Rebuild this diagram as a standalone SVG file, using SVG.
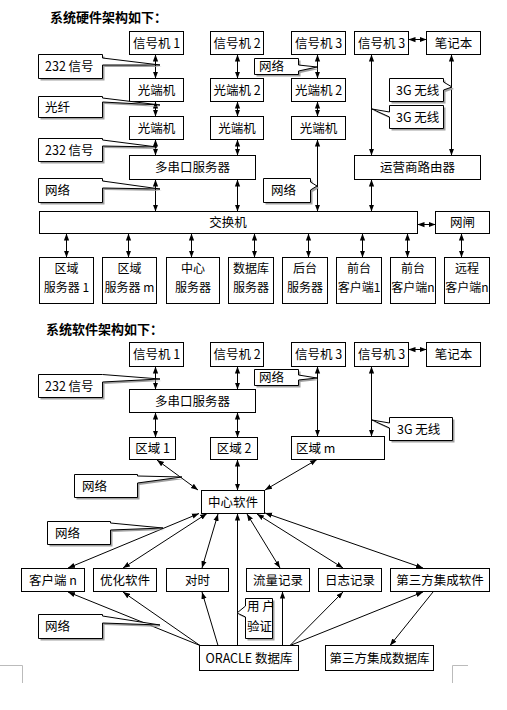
<svg xmlns="http://www.w3.org/2000/svg" width="507" height="710" viewBox="0 0 507 710">
<style>
.b{fill:#fff;stroke:#000;stroke-width:1}
.c{fill:#fff;stroke:#000;stroke-width:1}
.sh{fill:#a0a0a0;stroke:none}
.t{font-family:"Noto Sans CJK SC","Noto Sans",sans-serif;font-size:12.5px;fill:#000;text-anchor:middle}
.t2{font-family:"Noto Sans CJK SC","Noto Sans",sans-serif;font-size:12px;fill:#000;text-anchor:middle}
.l{font-family:"Noto Sans CJK SC","Noto Sans",sans-serif;font-size:12.5px;fill:#000;text-anchor:start}
.h{font-family:"Noto Sans CJK SC",sans-serif;font-size:13px;font-weight:bold;fill:#000}
.s{stroke:#000;stroke-width:1;fill:none;marker-end:url(#ah)}
.d{stroke:#000;stroke-width:1;fill:none;marker-start:url(#ah);marker-end:url(#ah)}
.cm{stroke:#bbb;stroke-width:1;fill:none}
</style>
<defs>
<marker id="ah" viewBox="0 0 8 8" refX="8" refY="4" markerWidth="7" markerHeight="7" markerUnits="userSpaceOnUse" orient="auto-start-reverse"><path d="M0,1 L8,4 L0,7 z" fill="#000"/></marker>
</defs>
<rect width="507" height="710" fill="#fff"/>

<text class="h" x="50" y="22">系统硬件架构如下：</text>
<text class="h" x="46" y="334">系统软件架构如下：</text>

<!-- hardware connectors -->
<g id="hw-connectors">
<path class="d" d="M155.5,54.5 V78.5"/>
<path class="d" d="M155.5,101.5 V116.5"/>
<path class="d" d="M155.5,139.5 V155.5"/>
<path class="d" d="M155.5,179.5 V211.5"/>
<path class="d" d="M237.5,54.5 V78.5"/>
<path class="d" d="M237.5,101.5 V116.5"/>
<path class="d" d="M237.5,139.5 V155.5"/>
<path class="d" d="M237.5,179.5 V211.5"/>
<path class="d" d="M317.5,54.5 V78.5"/>
<path class="d" d="M317.5,101.5 V116.5"/>
<path class="d" d="M317.5,139.5 V211.5"/>
<path class="d" d="M371.5,54.5 V155.5"/>
<path class="d" d="M371.5,179.5 V211.5"/>
<path class="d" d="M451.5,54.5 V155.5"/>
<path class="d" d="M408.5,39.5 H426.5"/>
<path class="d" d="M417.5,224.5 H435.5"/>
<path class="d" d="M66.5,233.5 V257.5"/>
<path class="d" d="M128.5,233.5 V257.5"/>
<path class="d" d="M191.5,233.5 V257.5"/>
<path class="d" d="M254.5,233.5 V257.5"/>
<path class="d" d="M308.5,233.5 V257.5"/>
<path class="d" d="M362.5,233.5 V257.5"/>
<path class="d" d="M407.5,233.5 V257.5"/>
<path class="d" d="M461.5,233.5 V257.5"/>
</g>

<!-- hardware nodes -->
<g id="h-sig1"><rect class="b" x="129.5" y="31.5" width="54" height="23"/><text class="t" x="156.5" y="47.5">信号机 1</text></g>
<g id="h-sig2"><rect class="b" x="210.5" y="31.5" width="53" height="23"/><text class="t" x="237" y="47.5">信号机 2</text></g>
<g id="h-sig3a"><rect class="b" x="291.5" y="31.5" width="54" height="23"/><text class="t" x="318.5" y="47.5">信号机 3</text></g>
<g id="h-sig3b"><rect class="b" x="354.5" y="31.5" width="54" height="23"/><text class="t" x="381.5" y="47.5">信号机 3</text></g>
<g id="h-laptop"><rect class="b" x="426.5" y="31.5" width="54" height="23"/><text class="t" x="453.5" y="47.5">笔记本</text></g>
<g id="h-oe1a"><rect class="b" x="129.5" y="78.5" width="54" height="23"/><text class="t" x="156.5" y="94.5">光端机</text></g>
<g id="h-oe2a"><rect class="b" x="210.5" y="78.5" width="53" height="23"/><text class="t" x="237" y="94.5">光端机 2</text></g>
<g id="h-oe3a"><rect class="b" x="291.5" y="78.5" width="54" height="23"/><text class="t" x="318.5" y="94.5">光端机 2</text></g>
<g id="h-oe1b"><rect class="b" x="129.5" y="116.5" width="54" height="23"/><text class="t" x="156.5" y="132.5">光端机</text></g>
<g id="h-oe2b"><rect class="b" x="210.5" y="116.5" width="53" height="23"/><text class="t" x="237" y="132.5">光端机</text></g>
<g id="h-oe3b"><rect class="b" x="291.5" y="116.5" width="54" height="23"/><text class="t" x="318.5" y="132.5">光端机</text></g>
<g id="h-serial"><rect class="b" x="129.5" y="155.5" width="126" height="24"/><text class="t" x="192.5" y="172">多串口服务器</text></g>
<g id="h-router"><rect class="b" x="354.5" y="155.5" width="126" height="24"/><text class="t" x="417.5" y="172">运营商路由器</text></g>
<g id="h-switch"><rect class="b" x="39.5" y="211.5" width="378" height="22"/><text class="t" x="228" y="227">交换机</text></g>
<g id="h-gate"><rect class="b" x="435.5" y="211.5" width="54" height="22"/><text class="t" x="462.5" y="227">网闸</text></g>
<g id="h-reg1"><rect class="b" x="39.5" y="257.5" width="54" height="46"/><text class="t2" x="66.5" y="272.5">区域</text><text class="t2" x="66.5" y="291.5">服务器 1</text></g>
<g id="h-regm"><rect class="b" x="102.5" y="257.5" width="54" height="46"/><text class="t2" x="129.5" y="272.5">区域</text><text class="t2" x="129.5" y="291.5">服务器 m</text></g>
<g id="h-center"><rect class="b" x="166.5" y="257.5" width="53" height="46"/><text class="t2" x="193" y="272.5">中心</text><text class="t2" x="193" y="291.5">服务器</text></g>
<g id="h-db"><rect class="b" x="228.5" y="257.5" width="45" height="46"/><text class="t2" x="251" y="272.5">数据库</text><text class="t2" x="251" y="291.5">服务器</text></g>
<g id="h-back"><rect class="b" x="282.5" y="257.5" width="45" height="46"/><text class="t2" x="305" y="272.5">后台</text><text class="t2" x="305" y="291.5">服务器</text></g>
<g id="h-front1"><rect class="b" x="336.5" y="257.5" width="45" height="46"/><text class="t2" x="359" y="272.5">前台</text><text class="t2" x="359" y="291.5">客户端1</text></g>
<g id="h-frontn"><rect class="b" x="390.5" y="257.5" width="45" height="46"/><text class="t2" x="413" y="272.5">前台</text><text class="t2" x="413" y="291.5">客户端n</text></g>
<g id="h-remote"><rect class="b" x="444.5" y="257.5" width="45" height="46"/><text class="t2" x="467" y="272.5">远程</text><text class="t2" x="467" y="291.5">客户端n</text></g>

<!-- hardware callouts -->
<g id="h-co-232a"><path class="sh" transform="translate(2,2)" d="M38.5,54.5 H102.5 V58 L160,65 L102.5,65 V78.5 H38.5 Z"/><path class="c" d="M38.5,54.5 H102.5 V58 L160,65 L102.5,65 V78.5 H38.5 Z"/><text class="l" x="45" y="71">232 信号</text></g>
<g id="h-co-fiber"><path class="sh" transform="translate(2,2)" d="M38.5,96.5 H102.5 V98 L160,105 L102.5,102 V117.5 H38.5 Z"/><path class="c" d="M38.5,96.5 H102.5 V98 L160,105 L102.5,102 V117.5 H38.5 Z"/><text class="l" x="45" y="112">光纤</text></g>
<g id="h-co-232b"><path class="sh" transform="translate(2,2)" d="M38.5,138.5 H102.5 V140 L157,147 L102.5,146 V161.5 H38.5 Z"/><path class="c" d="M38.5,138.5 H102.5 V140 L157,147 L102.5,146 V161.5 H38.5 Z"/><text class="l" x="45" y="155">232 信号</text></g>
<g id="h-co-net1"><path class="sh" transform="translate(2,2)" d="M38.5,178.5 H102.5 V181 L160,189 L102.5,188 V202.5 H38.5 Z"/><path class="c" d="M38.5,178.5 H102.5 V181 L160,189 L102.5,188 V202.5 H38.5 Z"/><text class="l" x="45" y="195">网络</text></g>
<g id="h-co-net2"><path class="sh" transform="translate(2,2)" d="M254.5,58.5 H298.5 V65 L317,67 L298.5,71 V74.5 H254.5 Z"/><path class="c" d="M254.5,58.5 H298.5 V65 L317,67 L298.5,71 V74.5 H254.5 Z"/><text class="l" x="259" y="71">网络</text></g>
<g id="h-co-net3"><path class="sh" transform="translate(2,2)" d="M263.5,178.5 H310.5 V182 L317,186 L310.5,190 V202.5 H263.5 Z"/><path class="c" d="M263.5,178.5 H310.5 V182 L317,186 L310.5,190 V202.5 H263.5 Z"/><text class="l" x="271" y="195">网络</text></g>
<g id="h-co-3g1"><path class="sh" transform="translate(2,2)" d="M389.5,78.5 H443.5 V82 L452,87 L443.5,90 V101.5 H389.5 Z"/><path class="c" d="M389.5,78.5 H443.5 V82 L452,87 L443.5,90 V101.5 H389.5 Z"/><text class="l" x="396" y="94.5">3G 无线</text></g>
<g id="h-co-3g2"><path class="sh" transform="translate(2,2)" d="M389.5,105.5 H443.5 V128.5 H389.5 V117 L372,109 L389.5,112 Z"/><path class="c" d="M389.5,105.5 H443.5 V128.5 H389.5 V117 L372,109 L389.5,112 Z"/><text class="l" x="396" y="122">3G 无线</text></g>

<!-- software connectors -->
<g id="sw-connectors">
<path class="d" d="M408.5,349.5 H426.5"/>
<path class="d" d="M155.5,366.5 V389.5"/>
<path class="d" d="M155.5,412.5 V437.5"/>
<path class="d" d="M237.5,366.5 V389.5"/>
<path class="d" d="M237.5,412.5 V437.5"/>
<path class="d" d="M317.5,366.5 V436.5"/>
<path class="d" d="M371.5,366.5 V436.5"/>
<path class="d" d="M157,460 L198,490"/>
<path class="d" d="M237.5,459.5 V490.5"/>
<path class="d" d="M317,459.5 L265,490"/>
<path class="d" d="M199,513.5 L68,568"/>
<path class="d" d="M207,513.5 L123,568"/>
<path class="d" d="M218,514 L202,568"/>
<path class="s" d="M237.5,645.5 V513.5"/>
<path class="d" d="M247,514 L280,568"/>
<path class="d" d="M257,514 L343,568"/>
<path class="d" d="M265,513 L423,568"/>
<path class="s" d="M200,645.5 L68,592"/>
<path class="s" d="M200,645.5 L123,592"/>
<path class="s" d="M218,645.5 L202,592"/>
<path class="s" d="M282.5,645.5 V591.5"/>
<path class="s" d="M290,645.5 L343,592"/>
<path class="s" d="M290,645.5 L423,592"/>
<path class="s" d="M433,592 L390,645.5"/>
</g>

<!-- software nodes -->
<g id="s-sig1"><rect class="b" x="129.5" y="342.5" width="54" height="24"/><text class="t" x="156.5" y="359">信号机 1</text></g>
<g id="s-sig2"><rect class="b" x="210.5" y="342.5" width="53" height="24"/><text class="t" x="237" y="359">信号机 2</text></g>
<g id="s-sig3a"><rect class="b" x="291.5" y="342.5" width="54" height="24"/><text class="t" x="318.5" y="359">信号机 3</text></g>
<g id="s-sig3b"><rect class="b" x="354.5" y="342.5" width="54" height="24"/><text class="t" x="381.5" y="359">信号机 3</text></g>
<g id="s-laptop"><rect class="b" x="426.5" y="342.5" width="54" height="24"/><text class="t" x="453.5" y="359">笔记本</text></g>
<g id="s-serial"><rect class="b" x="129.5" y="389.5" width="126" height="23"/><text class="t" x="192.5" y="405.5">多串口服务器</text></g>
<g id="s-reg1"><rect class="b" x="129.5" y="437.5" width="46" height="22"/><text class="t" x="152.5" y="453">区域 1</text></g>
<g id="s-reg2"><rect class="b" x="210.5" y="437.5" width="47" height="22"/><text class="t" x="234" y="453">区域 2</text></g>
<g id="s-regm"><rect class="b" x="291.5" y="436.5" width="93" height="23"/><text class="l" x="296" y="452.5">区域 m</text></g>
<g id="s-center"><rect class="b" x="201.5" y="490.5" width="63" height="23"/><text class="t" x="233" y="506.5">中心软件</text></g>
<g id="s-client"><rect class="b" x="21.5" y="568.5" width="63" height="23"/><text class="t" x="53" y="584.5">客户端 n</text></g>
<g id="s-opt"><rect class="b" x="93.5" y="568.5" width="63" height="23"/><text class="t" x="125" y="584.5">优化软件</text></g>
<g id="s-time"><rect class="b" x="166.5" y="568.5" width="62" height="23"/><text class="t" x="197.5" y="584.5">对时</text></g>
<g id="s-flow"><rect class="b" x="246.5" y="568.5" width="63" height="23"/><text class="t" x="278" y="584.5">流量记录</text></g>
<g id="s-log"><rect class="b" x="318.5" y="568.5" width="63" height="23"/><text class="t" x="350" y="584.5">日志记录</text></g>
<g id="s-3p"><rect class="b" x="390.5" y="568.5" width="99" height="23"/><text class="t" x="440" y="584.5">第三方集成软件</text></g>
<g id="s-oracle"><rect class="b" x="199.5" y="645.5" width="99" height="25"/><text class="t" x="249" y="662.5">ORACLE 数据库</text></g>
<g id="s-3pdb"><rect class="b" x="325.5" y="645.5" width="108" height="25"/><text class="t" x="379.5" y="662.5">第三方集成数据库</text></g>

<!-- software callouts -->
<g id="s-co-232"><path class="sh" transform="translate(2,2)" d="M38.5,374.5 H102.5 L160,379 L102.5,382 V397.5 H38.5 Z"/><path class="c" d="M38.5,374.5 H102.5 L160,379 L102.5,382 V397.5 H38.5 Z"/><text class="l" x="45" y="391">232 信号</text></g>
<g id="s-co-net1"><path class="sh" transform="translate(2,2)" d="M254.5,369.5 H298.5 V375 L317,378 L298.5,380 V385.5 H254.5 Z"/><path class="c" d="M254.5,369.5 H298.5 V375 L317,378 L298.5,380 V385.5 H254.5 Z"/><text class="l" x="259" y="382">网络</text></g>
<g id="s-co-3g"><path class="sh" transform="translate(2,2)" d="M389.5,417.5 H452.5 V440.5 H389.5 V428 L372,420 L389.5,423 Z"/><path class="c" d="M389.5,417.5 H452.5 V440.5 H389.5 V428 L372,420 L389.5,423 Z"/><text class="l" x="397" y="434">3G 无线</text></g>
<g id="s-co-net2"><path class="sh" transform="translate(2,2)" d="M74.5,474.5 H137.5 V476 L182,477 L137.5,483 V497.5 H74.5 Z"/><path class="c" d="M74.5,474.5 H137.5 V476 L182,477 L137.5,483 V497.5 H74.5 Z"/><text class="l" x="82" y="491">网络</text></g>
<g id="s-co-net3"><path class="sh" transform="translate(2,2)" d="M47.5,521.5 H110.5 V523 L163,528 L110.5,530 V544.5 H47.5 Z"/><path class="c" d="M47.5,521.5 H110.5 V523 L163,528 L110.5,530 V544.5 H47.5 Z"/><text class="l" x="55" y="538">网络</text></g>
<g id="s-co-net4"><path class="sh" transform="translate(2,2)" d="M38.5,614.5 H102.5 V616 L160,625 L102.5,623 V638.5 H38.5 Z"/><path class="c" d="M38.5,614.5 H102.5 V616 L160,625 L102.5,623 V638.5 H38.5 Z"/><text class="l" x="45" y="631">网络</text></g>
<g id="s-co-auth"><path class="sh" transform="translate(2,2)" d="M245.5,598.5 H272.5 V638.5 H245.5 V617 L237,613 L245.5,606 Z"/><path class="c" d="M245.5,598.5 H272.5 V638.5 H245.5 V617 L237,613 L245.5,606 Z"/><text class="l" x="247" y="611">用 户</text><text class="l" x="247" y="630.5">验证</text></g>

<!-- page corner marks -->
<path class="cm" d="M0,665.5 H22.5 V683"/>
<path class="cm" d="M452.5,683 V665.5 H468"/>
</svg>
